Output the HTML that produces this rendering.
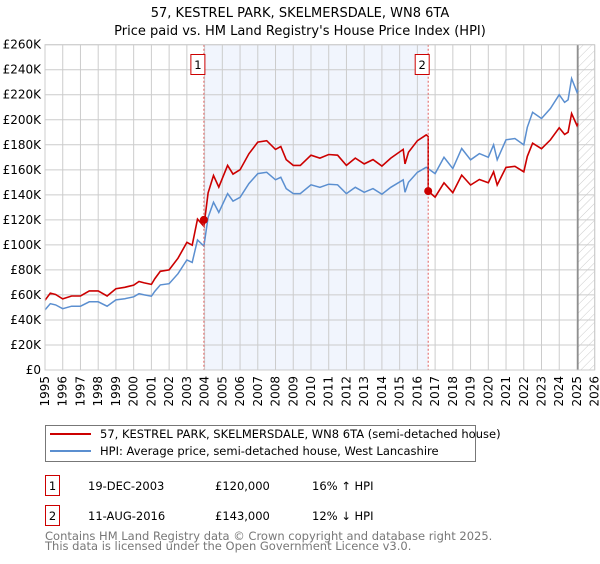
<!DOCTYPE html>
<html><head><meta charset="utf-8"><style>
body{margin:0;background:#fff;font-family:"DejaVu Sans","Liberation Sans",sans-serif;}
svg text{font-family:"DejaVu Sans","Liberation Sans",sans-serif;}
</style></head><body>
<svg id="chart" width="600" height="560" xmlns="http://www.w3.org/2000/svg">
<defs><pattern id="hatch" width="6" height="6" patternUnits="userSpaceOnUse" patternTransform="rotate(45)"><line x1="0" y1="0" x2="0" y2="6" stroke="#ccc" stroke-width="1"/></pattern></defs>
<text x="300" y="17" text-anchor="middle" font-size="13">57, KESTREL PARK, SKELMERSDALE, WN8 6TA</text>
<text x="300" y="35" text-anchor="middle" font-size="13">Price paid vs. HM Land Registry's House Price Index (HPI)</text>
<g id="grid"></g>
<g id="series"></g>
<g>
<rect x="45.5" y="425.5" width="430" height="36" fill="#fff" stroke="#777"/>
<line x1="50" y1="434" x2="91" y2="434" stroke="#cc0000" stroke-width="2"/>
<text x="100" y="438" font-size="11.5">57, KESTREL PARK, SKELMERSDALE, WN8 6TA (semi-detached house)</text>
<line x1="50" y1="451" x2="91" y2="451" stroke="#5b8fd0" stroke-width="2"/>
<text x="100" y="455" font-size="11.5">HPI: Average price, semi-detached house, West Lancashire</text>
</g>
<g font-size="11.5">
<rect x="45.5" y="475.5" width="14" height="20" fill="#fff" stroke="#cc0000"/><text x="52.5" y="490" text-anchor="middle">1</text>
<text x="88" y="490">19-DEC-2003</text><text x="215" y="490">£120,000</text><text x="312" y="490">16% ↑ HPI</text>
<rect x="45.5" y="505.5" width="14" height="20" fill="#fff" stroke="#cc0000"/><text x="52.5" y="520" text-anchor="middle">2</text>
<text x="88" y="520">11-AUG-2016</text><text x="215" y="520">£143,000</text><text x="312" y="520">12% ↓ HPI</text>
</g>
<text x="45" y="540" font-size="11.5" fill="#777">Contains HM Land Registry data © Crown copyright and database right 2025.</text>
<text x="45" y="550" font-size="11.5" fill="#777">This data is licensed under the Open Government Licence v3.0.</text>
</svg>
<script>
const hpiYears=[1995.0,1995.3,1995.6,1996.0,1996.5,1997.0,1997.5,1998.0,1998.5,1999.0,1999.5,2000.0,2000.3,2000.6,2001.0,2001.2,2001.5,2002.0,2002.5,2003.0,2003.3,2003.6,2003.96,2004.2,2004.5,2004.8,2005.3,2005.6,2006.0,2006.5,2007.0,2007.5,2008.0,2008.3,2008.6,2009.0,2009.4,2010.0,2010.5,2011.0,2011.5,2012.0,2012.5,2013.0,2013.5,2014.0,2014.5,2015.2,2015.3,2015.5,2016.0,2016.5,2017.0,2017.5,2018.0,2018.5,2019.0,2019.5,2020.0,2020.3,2020.5,2021.0,2021.5,2022.0,2022.2,2022.5,2023.0,2023.5,2024.0,2024.3,2024.5,2024.7,2025.0,2025.05];
const hpiValues=[48,53,52,49,51,51,54.5,54.5,51,56,57,58.5,61,60,59,63,68,69,77,88,86,104,99,122,134,126,141,135,138,149,157,158,152,154,145,141,141,148,146,148.5,148,141,146,142,145,140.5,146,152,142,150,158,162,157,170,161,177,168,173,170,180,168,184,185,180,194,206,201,209,220,214,216,233,222,224];
const saleYears=[2003.96,2016.61];
const salePrices=[120,143];
const saleHpiDiffPct=[16,-12];
const yTicks=[0,20,40,60,80,100,120,140,160,180,200,220,240,260];
const xTicks=[1995,1996,1997,1998,1999,2000,2001,2002,2003,2004,2005,2006,2007,2008,2009,2010,2011,2012,2013,2014,2015,2016,2017,2018,2019,2020,2021,2022,2023,2024,2025,2026];
const dataEnd=2025.05;
const X0=45,X1=594.7,Y0=370,Y1=44.7;
const xs=y=>X0+(y-1995)/(2026-1995)*(X1-X0);
const ys=v=>Y0-v/260*(Y0-Y1);
const NS="http://www.w3.org/2000/svg";
function mk(p,tag,a){const e=document.createElementNS(NS,tag);for(const k in a)e.setAttribute(k,a[k]);p.appendChild(e);return e;}
const grid=document.getElementById('grid');
const ser=document.getElementById('series');
let r=mk(grid,'rect',{x:xs(saleYears[0]),y:Y1,width:xs(saleYears[1])-xs(saleYears[0]),height:Y0-Y1,fill:'#eef3fc',opacity:0.8});


let h=mk(grid,'rect',{x:xs(dataEnd),y:Y1,width:X1-xs(dataEnd),height:Y0-Y1,fill:'url(#hatch)'});


yTicks.forEach(v=>{
  let l=mk(grid,'line',{x1:X0,x2:X1,y1:ys(v),y2:ys(v),stroke:'#ccc'});
  
  
  let t=mk(grid,'text',{x:X0-4,y:ys(v)+4,'text-anchor':'end','font-size':'12'});
  t.textContent='£'+(v===0?'0':v+'K');
  
  
});
xTicks.forEach(v=>{
  let l=mk(grid,'line',{x1:xs(v),x2:xs(v),y1:Y1,y2:Y0,stroke:'#ccc'});
  
  
  let t=mk(grid,'text',{x:0,y:0,'text-anchor':'end','font-size':'12',transform:`translate(${xs(v)+4},${Y0+6}) rotate(-90)`});
  t.textContent=v;
  
  
});
let ve=mk(grid,'line',{x1:xs(dataEnd),x2:xs(dataEnd),y1:Y1,y2:Y0,stroke:'#888','stroke-width':1.5});


function hpiAt(y){for(let i=1;i<hpiYears.length;i++){if(y<=hpiYears[i]){const t=(y-hpiYears[i-1])/(hpiYears[i]-hpiYears[i-1]);return hpiValues[i-1]+t*(hpiValues[i]-hpiValues[i-1]);}}return hpiValues[hpiValues.length-1];}
const r1=1+saleHpiDiffPct[0]/100,r2=1+saleHpiDiffPct[1]/100;
let bp=hpiYears.map((y,i)=>xs(y).toFixed(1)+','+ys(hpiValues[i]).toFixed(1)).join(' ');
let pts=[];
hpiYears.forEach((y,i)=>{if(y<saleYears[1])pts.push([y,hpiValues[i]*r1]);});
pts.push([saleYears[1],hpiAt(saleYears[1])*r1]);
pts.push([saleYears[1],salePrices[1]]);
hpiYears.forEach((y,i)=>{if(y>saleYears[1])pts.push([y,hpiValues[i]*r2]);});
let rp=pts.map(p=>xs(p[0]).toFixed(1)+','+ys(p[1]).toFixed(1)).join(' ');
let bl=mk(ser,'polyline',{points:bp,fill:'none',stroke:'#5b8fd0','stroke-width':1.5});


let rl=mk(ser,'polyline',{points:rp,fill:'none',stroke:'#cc0000','stroke-width':1.6});


saleYears.forEach((y,i)=>{
  let v=mk(ser,'line',{x1:xs(y),x2:xs(y),y1:Y1,y2:Y0,stroke:'#e06060','stroke-dasharray':'2,2'});
  
  
  let c=mk(ser,'circle',{cx:xs(y),cy:ys(salePrices[i]),r:4,fill:'#cc0000'});
  
  
  let b=mk(ser,'rect',{x:xs(y)-13,y:54.5,width:14,height:20,fill:'#fff',stroke:'#cc0000'});
  
  
  let t=mk(ser,'text',{x:xs(y)-6,y:69,'text-anchor':'middle','font-size':'11.5'});
  t.textContent=String(i+1);
  
  
});
let ax=mk(ser,'rect',{x:X0,y:Y1,width:X1-X0,height:Y0-Y1,fill:'none',stroke:'#ccc'});


</script>
</body></html>
